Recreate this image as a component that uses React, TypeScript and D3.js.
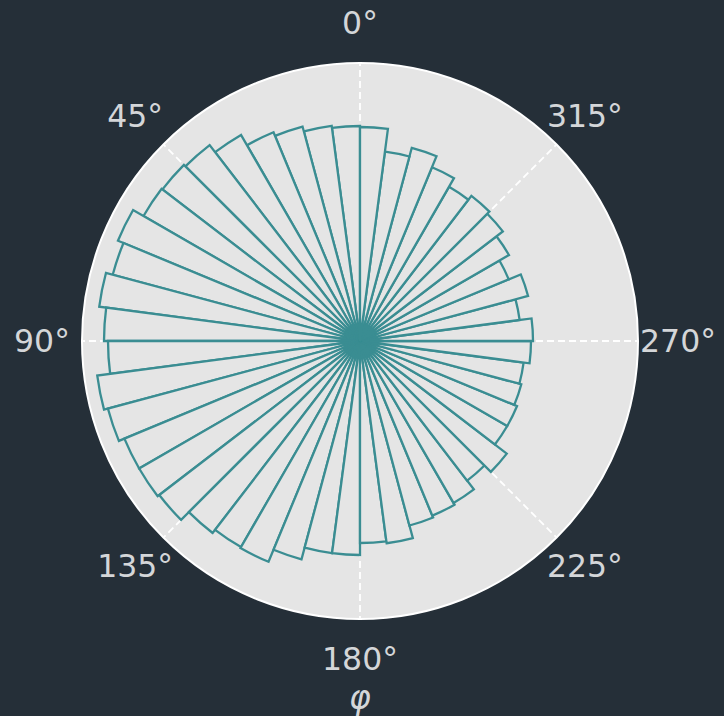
import React from "react";
import * as d3 from "d3";

// Histogram of the azimuth angle φ: 48 bins of 7.5°, counted counter-clockwise from north
const binCounts: number[] = [
  215, 217, 222, 226, 238, 247, 249, 250, 262, 256, 263, 256,
  252, 265, 261, 255, 255, 253, 242, 238, 239, 226, 214, 214,
  202, 204, 191, 189, 187, 176, 185, 170, 170, 167, 165, 171,
  173, 161, 174, 161, 172, 180, 183, 178, 188, 200, 191, 214,
];
const angleTicks: number[] = [0, 45, 90, 135, 180, 225, 270, 315];
const axisLabel = "φ";
const radialMax = 278;

const W = 724;
const H = 716;
const cx = 360;
const cy = 341;
const outerR = 278;
const labelR = 318;

const BG = "#252f38";
const FACE = "#e5e5e5";
const EDGE = "#3a8d92";
const TEXT = "#d4d6d8";

export default function App() {
  const r = d3.scaleLinear().domain([0, radialMax]).range([0, outerR]);
  const nBins = binCounts.length;
  const binW = (2 * Math.PI) / nBins;

  // d3.arc measures angles clockwise from north; the axis runs counter-clockwise
  const arc = d3.arc<{ start: number; end: number; value: number }>()
    .innerRadius(0)
    .outerRadius((d) => r(d.value))
    .startAngle((d) => -d.end)
    .endAngle((d) => -d.start);

  const bars = binCounts.map((value, i) => ({
    start: i * binW,
    end: (i + 1) * binW,
    value,
  }));

  // screen position for a CCW-from-north angle in degrees
  const pt = (deg: number, rad: number): [number, number] => {
    const a = (deg * Math.PI) / 180;
    return [cx - rad * Math.sin(a), cy - rad * Math.cos(a)];
  };

  return (
    <svg
      width={W}
      height={H}
      style={{ position: "absolute", left: 0, top: 0, background: BG }}
    >
      <rect x={0} y={0} width={W} height={H} fill={BG} />
      <circle cx={cx} cy={cy} r={outerR} fill={FACE} />
      {angleTicks.map((t) => {
        const [x2, y2] = pt(t, outerR);
        return (
          <line
            key={`g${t}`}
            x1={cx}
            y1={cy}
            x2={x2}
            y2={y2}
            stroke="#ffffff"
            strokeWidth={1.8}
            strokeDasharray="7,4"
          />
        );
      })}
      <g transform={`translate(${cx},${cy})`}>
        {bars.map((d, i) => (
          <path
            key={i}
            d={arc(d) || ""}
            fill={FACE}
            stroke={EDGE}
            strokeWidth={2.3}
            strokeLinejoin="miter"
          />
        ))}
      </g>
      <circle cx={cx} cy={cy} r={outerR} fill="none" stroke="#ffffff" strokeWidth={2} />
      {angleTicks.map((t) => {
        const [x, y] = pt(t, labelR);
        return (
          <text
            key={`t${t}`}
            x={x}
            y={y}
            fill={TEXT}
            fontFamily="DejaVu Sans"
            fontSize={31.5}
            textAnchor="middle"
            dominantBaseline="central"
          >
            {`${t}°`}
          </text>
        );
      })}
      <text
        x={cx}
        y={697}
        fill={TEXT}
        fontFamily="DejaVu Sans"
        fontStyle="italic"
        fontSize={33}
        textAnchor="middle"
        dominantBaseline="central"
      >
        {axisLabel}
      </text>
    </svg>
  );
}
